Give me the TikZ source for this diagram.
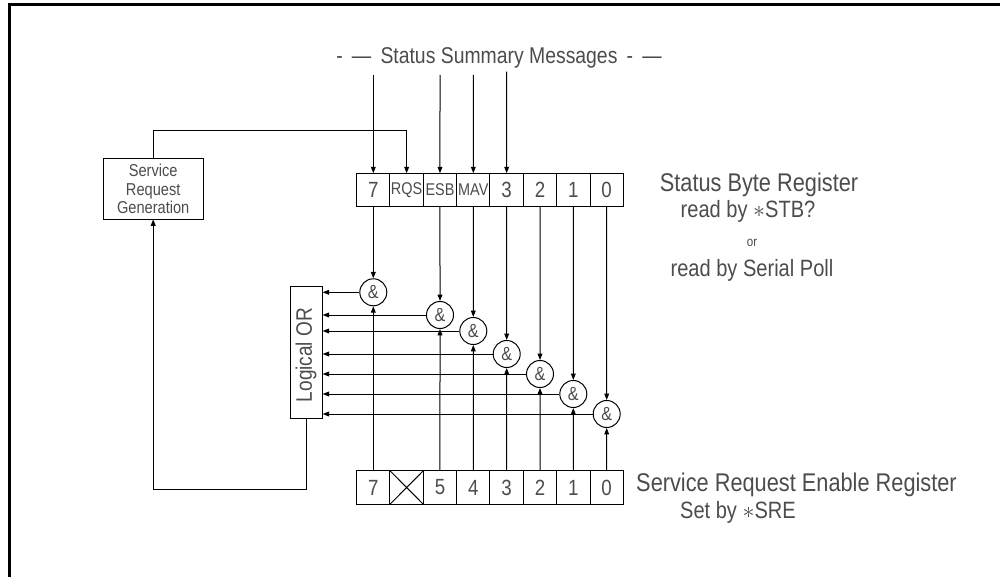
\documentclass[tikz,border=0pt]{standalone}
\usepackage{fontspec}
\newfontfamily\plotfont[FakeStretch=0.85]{Liberation Sans}
\usepackage{tikz}
\usetikzlibrary{positioning,arrows.meta}
\definecolor{plotInk}{gray}{0.3}
\tikzset{
  bitbox/.style={draw, minimum width=16.67pt, minimum height=16.8pt,
    inner sep=0pt, outer sep=0pt, text=plotInk,
    font=\plotfont\fontsize{11}{11}\selectfont},
  flagbox/.style={bitbox, font=\plotfont\fontsize{8.5}{8.5}\selectfont},
  andgate/.style={draw, circle, minimum size=13.5pt, inner sep=0pt,
    text=plotInk, font=\plotfont\fontsize{9.5}{9.5}\selectfont},
  sig/.style={-{Triangle[length=3.2pt,width=2.4pt]}},
  regtext/.style={text=plotInk, anchor=base, inner sep=0pt}
}

\begin{document}
\begin{tikzpicture}[x=0.5pt,y=-0.5pt,line width=0.5pt]
  \useasboundingbox (0,0) rectangle (1000,577);
  % frame
  \draw[line width=1.6pt] (9.5,577) -- (9.5,4.3) -- (1000,4.3);

  % status byte register
  \node[bitbox] (sb7) at (373.3,190) {7};
  \node[flagbox, right=0pt of sb7] (sbrqs) {RQS};
  \node[flagbox, right=0pt of sbrqs] (sbesb) {ESB};
  \node[flagbox, right=0pt of sbesb] (sbmav) {MAV};
  \node[bitbox, right=0pt of sbmav] (sb3) {3};
  \node[bitbox, right=0pt of sb3] (sb2) {2};
  \node[bitbox, right=0pt of sb2] (sb1) {1};
  \node[bitbox, right=0pt of sb1] (sb0) {0};
  \node[regtext, font=\plotfont\fontsize{12.8}{12.8}\selectfont] (sbrname) at (759,191.5) {Status Byte Register};
  \node[regtext, font=\plotfont\fontsize{11.8}{11.8}\selectfont] (sbrread) at (748,218) {read by $\ast$STB?};
  \node[regtext, font=\plotfont\fontsize{6.8}{6.8}\selectfont] (sbror) at (752,247) {or};
  \node[regtext, font=\plotfont\fontsize{11.8}{11.8}\selectfont] (sbrpoll) at (752,276.5) {read by Serial Poll};

  % status summary messages
  \node[regtext, font=\plotfont\fontsize{11.4}{11.4}\selectfont] (ssmtitle) at (499,63.3) {-\, — \,Status Summary Messages\, -\, —};
  \coordinate (ssm7) at (373.3,75);
  \coordinate (ssmesb) at (440,75);
  \coordinate (ssmmav) at (473.3,75);
  \coordinate (ssm3) at (506.7,71.7);
  \draw[sig] (ssm7) -- (sb7.north);
  \draw[sig] (ssmesb) -- (sbesb.north);
  \draw[sig] (ssmmav) -- (sbmav.north);
  \draw[sig] (ssm3) -- (sb3.north);

  % service request enable register
  \node[bitbox] (sre7) at (373.3,487.5) {7};
  \node[bitbox, right=0pt of sre7] (sre6) {};
  \node[bitbox, right=0pt of sre6] (sre5) {5};
  \node[bitbox, right=0pt of sre5] (sre4) {4};
  \node[bitbox, right=0pt of sre4] (sre3) {3};
  \node[bitbox, right=0pt of sre3] (sre2) {2};
  \node[bitbox, right=0pt of sre2] (sre1) {1};
  \node[bitbox, right=0pt of sre1] (sre0) {0};
  \draw (sre6.north west) -- (sre6.south east);
  \draw (sre6.north east) -- (sre6.south west);
  \node[regtext, font=\plotfont\fontsize{12.8}{12.8}\selectfont] (srename) at (796.5,491) {Service Request Enable Register};
  \node[regtext, font=\plotfont\fontsize{11.8}{11.8}\selectfont] (sreset) at (738,518.5) {Set by $\ast$SRE};

  % and gates
  \node[andgate] (g7) at (373.3,292.3) {\&};
  \node[andgate] (g5) at (440,315) {\&};
  \node[andgate] (g4) at (473.3,331) {\&};
  \node[andgate] (g3) at (506.7,354) {\&};
  \node[andgate] (g2) at (540,374) {\&};
  \node[andgate] (g1) at (573.3,394) {\&};
  \node[andgate] (g0) at (606.7,414) {\&};
  \draw[sig] (sb7.south) -- (g7.north);
  \draw[sig] (sbesb.south) -- (g5.north);
  \draw[sig] (sbmav.south) -- (g4.north);
  \draw[sig] (sb3.south) -- (g3.north);
  \draw[sig] (sb2.south) -- (g2.north);
  \draw[sig] (sb1.south) -- (g1.north);
  \draw[sig] (sb0.south) -- (g0.north);
  \draw[sig] (sre7.north) -- (g7.south);
  \draw[sig] (sre5.north) -- (g5.south);
  \draw[sig] (sre4.north) -- (g4.south);
  \draw[sig] (sre3.north) -- (g3.south);
  \draw[sig] (sre2.north) -- (g2.south);
  \draw[sig] (sre1.north) -- (g1.south);
  \draw[sig] (sre0.north) -- (g0.south);

  % logical or
  \node[draw, minimum width=16.3pt, minimum height=66.2pt, inner sep=0pt, outer sep=0pt] (orbox) at (306.3,352.2) {};
  \node[rotate=90, text=plotInk, inner sep=0pt, font=\plotfont\fontsize{11.2}{11.2}\selectfont] (ortext) at (306,355) {Logical OR};
  \draw[sig] (g7.west) -- (g7.west -| orbox.east);
  \draw[sig] (g5.west) -- (g5.west -| orbox.east);
  \draw[sig] (g4.west) -- (g4.west -| orbox.east);
  \draw[sig] (g3.west) -- (g3.west -| orbox.east);
  \draw[sig] (g2.west) -- (g2.west -| orbox.east);
  \draw[sig] (g1.west) -- (g1.west -| orbox.east);
  \draw[sig] (g0.west) -- (g0.west -| orbox.east);

  % service request generation
  \node[draw, minimum width=50.2pt, minimum height=30.2pt, inner sep=0pt, outer sep=0pt,
    align=center, text=plotInk, font=\plotfont\fontsize{8.6}{9.2}\selectfont]
    (srg) at (153.2,189.2) {Service\\Request\\Generation};
  \draw[sig] (orbox.south) -- ++(0,71) -| (srg.south);
  \draw[sig] (srg.north) -- ++(0,-28.3) -| (sbrqs.north);
\end{tikzpicture}
\end{document}
